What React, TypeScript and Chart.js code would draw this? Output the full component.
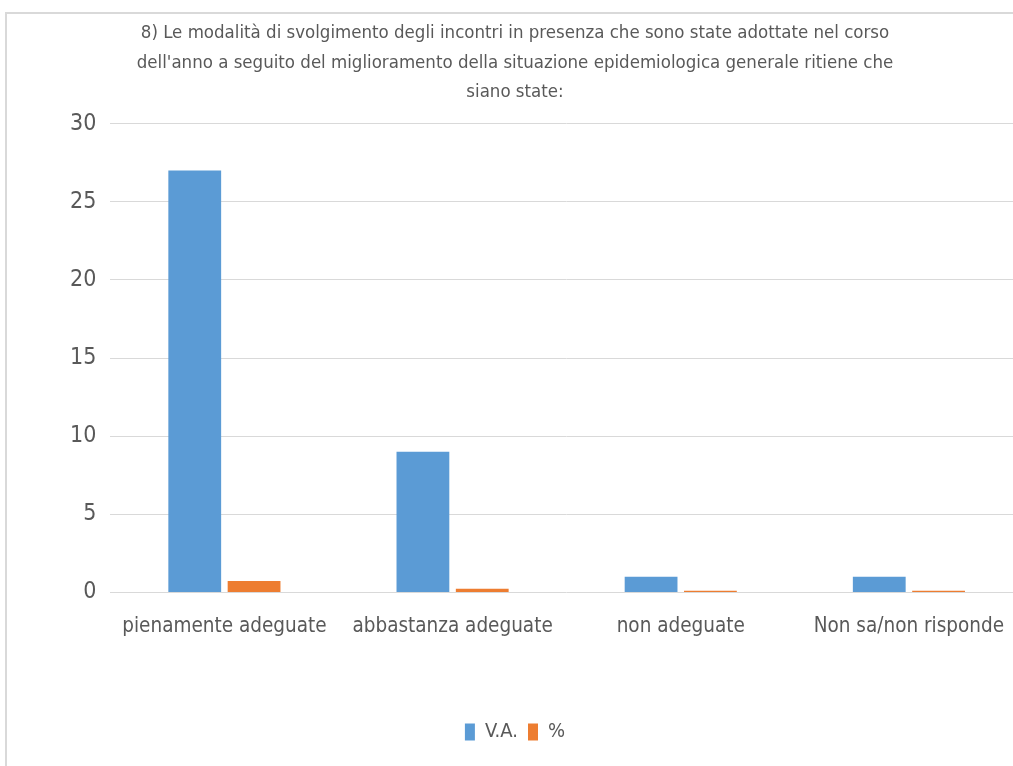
import React, { useEffect, useRef } from "react";
import Chart from "chart.js/auto";

const categories = ["pienamente adeguate", "abbastanza adeguate", "non adeguate", "Non sa/non risponde"];
const vaValues = [27, 9, 1, 1];
const pctValues = [0.73, 0.24, 0.1, 0.1];
const titleLines = [
  "8) Le modalità di svolgimento degli incontri in presenza che sono state adottate nel corso",
  "dell'anno a seguito del miglioramento della situazione epidemiologica generale ritiene che",
  "siano state:",
];
const seriesNames = ["V.A.", "%"];

const FONT = "'Liberation Sans Narrow', 'DejaVu Sans Condensed', 'Arial Narrow', sans-serif";
const TEXT = "#595959";

export default function App() {
  const ref = useRef<HTMLCanvasElement | null>(null);
  useEffect(() => {
    document.body.style.margin = "0";
    const chart = new Chart(ref.current!, {
      type: "bar",
      data: {
        labels: categories,
        datasets: [
          { label: seriesNames[0], data: vaValues, backgroundColor: "#5B9BD5", categoryPercentage: 0.52, barPercentage: 0.89 },
          { label: seriesNames[1], data: pctValues, backgroundColor: "#ED7D31", categoryPercentage: 0.52, barPercentage: 0.89 },
        ],
      },
      options: {
        animation: false,
        responsive: false,
        layout: { padding: { left: 0, right: 18, top: 0, bottom: 22 } },
        plugins: {
          title: {
            display: true,
            text: titleLines,
            color: TEXT,
            font: { family: FONT, size: 18.5, weight: "normal", lineHeight: 1.58 },
            padding: { top: 5, bottom: 17 },
          },
          legend: {
            position: "bottom",
            labels: {
              color: TEXT,
              font: { family: FONT, size: 20 },
              boxWidth: 10,
              boxHeight: 17,
              padding: 10,
            },
          },
          tooltip: { enabled: false },
        },
        scales: {
          x: {
            grid: { display: false },
            border: { display: false },
            ticks: { color: TEXT, font: { family: FONT, size: 20.5 }, padding: 14, maxRotation: 0, autoSkip: false },
            afterFit: (scale: any) => { scale.height += 59; },
          },
          y: {
            min: 0,
            max: 30,
            ticks: { stepSize: 5, color: TEXT, font: { family: FONT, size: 23 }, padding: 14 },
            grid: { color: "#d9d9d9", drawTicks: false },
            border: { display: false },
            afterFit: (scale: any) => { scale.width += 49; },
          },
        },
      },
    });
    return () => chart.destroy();
  }, []);
  return (
    <div style={{ position: "fixed", left: 0, top: 0, width: 1013, height: 766, overflow: "hidden", background: "#fff" }}>
      <div style={{ position: "absolute", left: 5, top: 12, width: 1100, height: 800, borderLeft: "2px solid #d9d9d9", borderTop: "2px solid #d9d9d9", overflow: "hidden" }}>
        <canvas ref={ref} width={1034} height={760} style={{ display: "block" }} />
      </div>
    </div>
  );
}
